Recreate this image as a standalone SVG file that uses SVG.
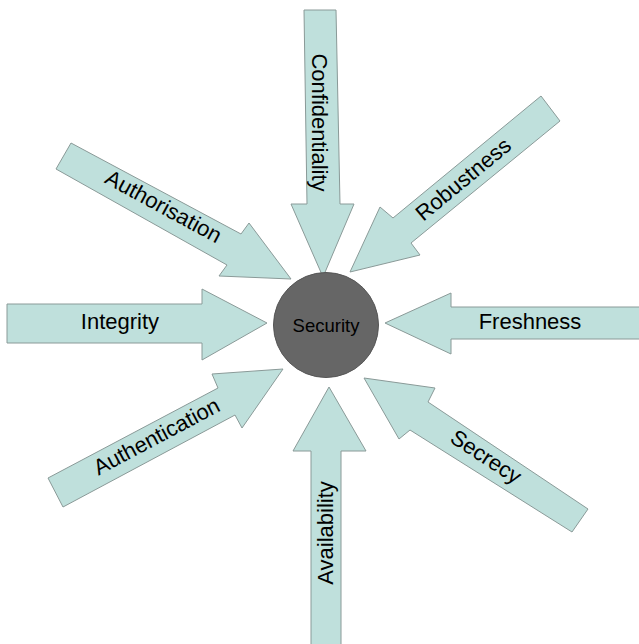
<svg xmlns="http://www.w3.org/2000/svg" width="639" height="644" viewBox="0 0 639 644">
  <style>
    .arrow { fill: #bfe0dc; stroke: #8a9a98; stroke-width: 1; stroke-linejoin: miter; }
    .label { font-family: "Liberation Sans", Arial, sans-serif; font-size: 22px; fill: #000000; text-anchor: middle; }
    .hub { fill: #666666; stroke: #555555; stroke-width: 1; }
    .hub-label { font-family: "Liberation Sans", Arial, sans-serif; font-size: 18.5px; fill: #000000; text-anchor: middle; }
  </style>
  <rect width="639" height="644" fill="#ffffff"/>

  <!-- block arrows pointing at the central circle -->
  <g id="connectors">
    <g id="confidentiality">
      <polygon class="arrow" points="304,10 336,10 340,204 354,204 323,277 291,204 307,204"/>
      <text class="label" transform="translate(312,122.5) rotate(90)">Confidentiality</text>
    </g>
    <g id="robustness">
      <polygon class="arrow" points="541,96 560,121 411,243 420,255 350,272 380,207 393,218"/>
      <text class="label" transform="translate(468,185) rotate(-39.5)">Robustness</text>
    </g>
    <g id="authorisation">
      <polygon class="arrow" points="71,143 241,234 249,223 291,279 219,276 227,265 56,169"/>
      <text class="label" transform="translate(160,213) rotate(28.5)">Authorisation</text>
    </g>
    <g id="integrity">
      <polygon class="arrow" points="7,304 202,304 202,289 267,323 202,360 202,343 7,343"/>
      <text class="label" x="120" y="328.5">Integrity</text>
    </g>
    <g id="freshness">
      <polygon class="arrow" points="650,307 451,307 451,293 385,323 451,354 451,339 650,339"/>
      <text class="label" x="530" y="329">Freshness</text>
    </g>
    <g id="authentication">
      <polygon class="arrow" points="48,478 218,388 212,374 283,369 242,428 235,415 63,507"/>
      <text class="label" transform="translate(160,443) rotate(-28)">Authentication</text>
    </g>
    <g id="secrecy">
      <polygon class="arrow" points="588,509 428,402 435,388 364,378 399,439 410,430 572,532"/>
      <text class="label" transform="translate(482,463) rotate(33)">Secrecy</text>
    </g>
    <g id="availability">
      <polygon class="arrow" points="311,650 311,451 293,451 329,387 366,451 341,451 341,650"/>
      <text class="label" transform="translate(332.5,533) rotate(-90)">Availability</text>
    </g>
  </g>

  <!-- central node -->
  <g id="security">
    <circle class="hub" cx="326" cy="325" r="52.5"/>
    <text class="hub-label" x="326" y="331.5">Security</text>
  </g>
</svg>
